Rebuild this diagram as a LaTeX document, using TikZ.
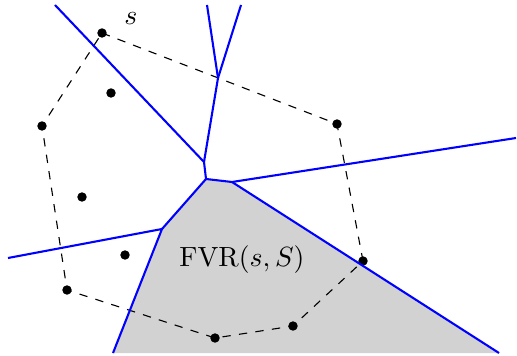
\documentclass[tikz,border=0pt]{standalone}
\begin{document}
\begin{tikzpicture}[x=0.36pt,y=-0.36pt,
  vor/.style={blue,line width=0.75pt},
  hull/.style={black,dashed,line width=0.4pt},
  site/.style={circle,fill=black,inner sep=0pt,minimum size=3.4pt}]
\useasboundingbox (0,0) rectangle (517,355);
% Voronoi vertices
\coordinate (v1) at (204,162);
\coordinate (v2) at (206,179);
\coordinate (v3) at (232,182);
\coordinate (v4) at (162,229);
\coordinate (v5) at (218,78);
\coordinate (e1) at (55,5);
\coordinate (e2) at (207,5);
\coordinate (e3) at (241,5);
\coordinate (e4) at (516,138);
\coordinate (e5) at (499,353);
\coordinate (e6) at (8,258);
\coordinate (e7) at (113,353);
% region
\fill[gray!35] (e7) -- (v4) -- (v2) -- (v3) -- (e5) -- cycle;
% sites
\node[site] (p1) at (102,33) {};
\node[site] (p2) at (337,124) {};
\node[site] (p3) at (363,261) {};
\node[site] (p4) at (293,326) {};
\node[site] (p5) at (215,338) {};
\node[site] (p6) at (67,290) {};
\node[site] (p7) at (42,126) {};
\node[site] (q1) at (111,93) {};
\node[site] (q2) at (82,197) {};
\node[site] (q3) at (125,255) {};
% hull
\draw[hull] (p1.center) -- (p2.center) -- (p3.center) -- (p4.center) -- (p5.center) -- (p6.center) -- (p7.center) -- cycle;
% Voronoi edges
\draw[vor] (e1) -- (v1) -- (v2) -- (v3) -- (e4);
\draw[vor] (v3) -- (e5);
\draw[vor] (e7) -- (v4) -- (e6);
\draw[vor] (v4) -- (v2);
\draw[vor] (v1) -- (v5) -- (e2);
\draw[vor] (v5) -- (e3);
% labels
\node (ls) at (131,19) {$s$};
\node (lf) at (242,260) {$\mathrm{FVR}(s,S)$};
\end{tikzpicture}
\end{document}
